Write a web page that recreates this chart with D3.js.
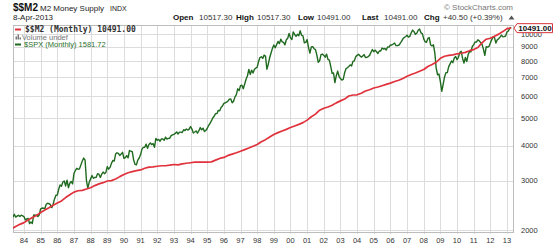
<!DOCTYPE html>
<html>
<head>
<meta charset="utf-8">
<script src="https://cdnjs.cloudflare.com/ajax/libs/d3/7.8.5/d3.min.js"></script>
<style>
body { margin:0; background:#fff; }
</style>
</head>
<body>
<div id="chart"></div>
<script>
// year gridlines / labels
const yearTicks = d3.range(1984, 2014)
const yearLabels = yearTicks.map(function(y){ return String(y).slice(2) })
const priceTicks = [2000, 3000, 4000, 5000, 6000, 7000, 8000, 9000, 10000]

// $$M2, quarterly points starting Apr 1983
const m2Start = 1983.25
const m2Values = [
  2020, 2060, 2095,
  2125, 2170, 2215, 2255,
  2310, 2355, 2400, 2450,
  2495, 2540, 2610, 2670,
  2730, 2760, 2770, 2800,
  2830, 2880, 2920, 2950,
  2990, 3000, 3040, 3100,
  3155, 3200, 3230, 3255,
  3275, 3320, 3350, 3360,
  3375, 3390, 3390, 3405,
  3425, 3415, 3440, 3460,
  3475, 3490, 3490, 3490,
  3490, 3500, 3550, 3600,
  3630, 3690, 3730, 3770,
  3820, 3870, 3920, 3980,
  4035, 4130, 4200, 4290,
  4380, 4450, 4510, 4570,
  4640, 4700, 4760, 4830,
  4930, 5070, 5180, 5350,
  5435, 5490, 5570, 5680,
  5775, 5860, 6010, 6060,
  6070, 6150, 6260, 6330,
  6420, 6470, 6540, 6610,
  6680, 6770, 6840, 6940,
  7070, 7170, 7260, 7360,
  7470, 7660, 7780, 7930,
  8190, 8330, 8390, 8420,
  8500, 8540, 8600, 8720,
  8800, 8950, 9300, 9580,
  9660, 9820, 9990, 10200,
  10450, 10491
]

// $SPX monthly closes starting May 1983
const spxStart = 1983 + 4 / 12
const spxValues = [
  162.39, 168.11, 162.56, 164.40, 166.07, 163.55, 166.40, 164.93,
  163.41, 157.06, 159.18, 160.05, 150.55, 153.18, 150.66, 166.68, 166.10, 166.09, 163.58, 167.24,
  179.63, 181.18, 180.66, 179.83, 189.55, 191.85, 190.92, 188.63, 182.08, 189.82, 202.17, 211.28,
  211.78, 226.92, 238.90, 235.52, 247.35, 250.84, 236.12, 252.93, 231.32, 243.98, 249.22, 242.17,
  274.08, 284.20, 291.70, 288.36, 290.10, 304.00, 318.66, 329.80, 321.83, 251.79, 230.30, 247.08,
  257.07, 267.82, 258.89, 261.33, 262.16, 273.50, 272.02, 261.52, 271.91, 278.97, 273.70, 277.72,
  297.47, 288.86, 294.87, 309.64, 320.52, 317.98, 346.08, 351.45, 349.15, 340.36, 345.99, 353.40,
  329.08, 331.89, 339.94, 330.80, 361.23, 358.02, 356.15, 322.56, 306.05, 304.00, 322.22, 330.22,
  343.93, 367.07, 375.22, 375.35, 389.83, 371.16, 387.81, 395.43, 387.86, 392.46, 375.22, 417.09,
  408.79, 412.70, 403.69, 414.95, 415.35, 408.14, 424.21, 414.03, 417.80, 418.68, 431.35, 435.71,
  438.78, 443.38, 451.67, 440.19, 450.19, 450.53, 448.13, 463.56, 458.93, 467.83, 461.79, 466.45,
  481.61, 467.14, 445.77, 450.91, 456.50, 444.27, 458.26, 475.49, 462.69, 472.35, 453.69, 459.27,
  470.42, 487.39, 500.71, 514.71, 533.40, 544.75, 562.06, 561.88, 584.41, 581.50, 605.37, 615.93,
  636.02, 640.43, 645.50, 654.17, 669.12, 670.63, 639.95, 651.99, 687.33, 705.27, 757.02, 740.74,
  786.16, 790.82, 757.12, 801.34, 848.28, 885.14, 954.31, 899.47, 947.28, 914.62, 955.40, 970.43,
  980.28, 1049.34, 1101.75, 1111.75, 1090.82, 1133.84, 1120.67, 957.28, 1017.01, 1098.67, 1163.63, 1229.23,
  1279.64, 1238.33, 1286.37, 1335.18, 1301.84, 1372.71, 1328.72, 1320.41, 1282.71, 1362.93, 1388.91, 1469.25,
  1394.46, 1366.42, 1498.58, 1452.43, 1420.60, 1454.60, 1430.83, 1517.68, 1436.51, 1429.40, 1314.95, 1320.28,
  1366.01, 1239.94, 1160.33, 1249.46, 1255.82, 1224.42, 1211.23, 1133.58, 1040.94, 1059.78, 1139.45, 1148.08,
  1130.20, 1106.73, 1147.39, 1076.92, 1067.14, 989.82, 911.62, 916.07, 815.28, 885.76, 936.31, 879.82,
  855.70, 841.15, 848.18, 916.92, 963.59, 974.50, 990.31, 1008.01, 995.97, 1050.71, 1058.20, 1111.92,
  1131.13, 1144.94, 1126.21, 1107.30, 1120.68, 1140.84, 1101.72, 1104.24, 1114.58, 1130.20, 1173.82, 1211.92,
  1181.27, 1203.60, 1180.59, 1156.85, 1191.50, 1191.33, 1234.18, 1220.33, 1228.81, 1207.01, 1249.48, 1248.29,
  1280.08, 1280.66, 1294.83, 1310.61, 1270.09, 1270.20, 1276.66, 1303.82, 1335.85, 1377.94, 1400.63, 1418.30,
  1438.24, 1406.82, 1420.86, 1482.37, 1530.62, 1503.35, 1455.27, 1473.99, 1526.75, 1549.38, 1481.14, 1468.36,
  1378.55, 1330.63, 1322.70, 1385.59, 1400.38, 1280.00, 1267.38, 1282.83, 1166.36, 968.75, 896.24, 903.25,
  825.88, 735.09, 797.87, 872.81, 919.14, 919.32, 987.48, 1020.62, 1057.08, 1036.19, 1095.63, 1115.10,
  1073.87, 1104.49, 1169.43, 1186.69, 1089.41, 1030.71, 1101.60, 1049.33, 1141.20, 1183.26, 1180.55, 1257.64,
  1286.12, 1327.22, 1325.83, 1363.61, 1345.20, 1320.64, 1292.28, 1218.89, 1131.42, 1253.30, 1246.96, 1257.60,
  1312.41, 1365.68, 1408.47, 1397.91, 1310.33, 1362.16, 1379.32, 1406.58, 1440.67, 1412.16, 1416.18, 1426.19,
  1498.11, 1514.68, 1569.19, 1581.72
]

const quoteLabels = ['Open', 'High', 'Low', 'Last', 'Chg']
const quoteValues = ['10517.30', '10517.30', '10491.00', '10491.00', '+40.50 (+0.39%)']
const lastM2 = 10491.00

const width = 554
const height = 247
const plot = { left: 13, right: 513, top: 25, bottom: 232 }
const sans = '"Liberation Sans", Arial, sans-serif'

var svg = d3.select('#chart').append('svg')
  .attr('width', width).attr('height', height)
  .style('font-family', sans)

var xScale = d3.scaleLinear().domain([1984, 2013]).range([24, 507])
var yScale = d3.scaleLog().domain([2000, 10000]).range([230, 34])
var spxScale = d3.scaleLog().domain([100, 2000]).range([257.6, 7.8])

// grid
svg.append('g')
  .selectAll('line')
  .data(priceTicks)
  .enter()
  .append('line')
  .attr('x1', plot.left).attr('x2', plot.right)
  .attr('y1', function(d){ return Math.round(yScale(d)) + 0.5 })
  .attr('y2', function(d){ return Math.round(yScale(d)) + 0.5 })
  .attr('stroke', '#dcdcdc')

svg.append('g')
  .selectAll('line')
  .data(yearTicks)
  .enter()
  .append('line')
  .attr('x1', function(d){ return Math.round(xScale(d)) + 0.5 })
  .attr('x2', function(d){ return Math.round(xScale(d)) + 0.5 })
  .attr('y1', plot.top).attr('y2', plot.bottom + 2)
  .attr('stroke', '#dcdcdc')

svg.append('rect')
  .attr('x', plot.left + 0.5).attr('y', plot.top + 0.5)
  .attr('width', plot.right - plot.left).attr('height', plot.bottom - plot.top)
  .attr('fill', 'none').attr('stroke', '#bdbdbd')

// axis labels
svg.append('g')
  .selectAll('text')
  .data(yearTicks)
  .enter()
  .append('text')
  .attr('x', function(d){ return xScale(d) })
  .attr('y', 243)
  .attr('text-anchor', 'middle')
  .attr('font-size', '7.5px')
  .attr('fill', '#333')
  .text(function(d, i){ return yearLabels[i] })

svg.append('g')
  .selectAll('text')
  .data(priceTicks)
  .enter()
  .append('text')
  .attr('x', 521)
  .attr('y', function(d){ return yScale(d) })
  .attr('dy', '0.35em')
  .attr('font-size', '7.5px')
  .attr('fill', '#333')
  .text(function(d){ return d })

// lines
svg.append('clipPath').attr('id', 'clip')
  .append('rect')
  .attr('x', plot.left).attr('y', plot.top)
  .attr('width', plot.right - plot.left).attr('height', plot.bottom - plot.top)

const m2Line = d3.line()
  .x(function(d, i){ return xScale(m2Start + i / 4) })
  .y(function(d){ return yScale(d) })

const spxLine = d3.line()
  .x(function(d, i){ return xScale(spxStart + i / 12) })
  .y(function(d){ return spxScale(d) })

svg.append('path')
  .attr('clip-path', 'url(#clip)')
  .attr('fill', 'none')
  .attr('stroke', '#1f6a1f')
  .attr('stroke-width', 1.4)
  .attr('stroke-linejoin', 'round')
  .attr('d', spxLine(spxValues))

svg.append('path')
  .attr('clip-path', 'url(#clip)')
  .attr('fill', 'none')
  .attr('stroke', '#e0323c')
  .attr('stroke-width', 1.7)
  .attr('stroke-linejoin', 'round')
  .attr('d', m2Line(m2Values))

// last value tag
const tagY = yScale(lastM2)
svg.append('path')
  .attr('d', 'M514,' + tagY + ' L517,' + (tagY - 4.5) + ' L552.5,' + (tagY - 4.5) +
    ' L552.5,' + (tagY + 4.5) + ' L517,' + (tagY + 4.5) + ' Z')
  .attr('fill', '#fff').attr('stroke', '#d8323c').attr('stroke-width', 1)
svg.append('text')
  .attr('x', 535).attr('y', tagY).attr('dy', '0.36em')
  .attr('text-anchor', 'middle')
  .attr('font-size', '8px').attr('font-weight', 'bold').attr('fill', '#111')
  .text(lastM2.toFixed(2))

// header
svg.append('text').attr('x', 13).attr('y', 11)
  .attr('font-size', '10px').attr('font-weight', 'bold').attr('fill', '#111').text('$$M2')
svg.append('text').attr('x', 40).attr('y', 11)
  .attr('font-size', '8px').attr('fill', '#222').text('M2 Money Supply')
svg.append('text').attr('x', 110).attr('y', 11)
  .attr('font-size', '7px').attr('fill', '#222').text('INDX')
svg.append('text').attr('x', 13).attr('y', 20)
  .attr('font-size', '8px').attr('fill', '#222').text('8-Apr-2013')
svg.append('text').attr('x', 513).attr('y', 10)
  .attr('text-anchor', 'end')
  .attr('font-size', '8px').attr('fill', '#777').text('\u00a9 StockCharts.com')

const labelX = [173, 236, 298, 362, 424]
const valueX = [199, 257, 317, 384, 443]
quoteLabels.forEach(function(l, i){
  svg.append('text').attr('x', labelX[i]).attr('y', 20)
    .attr('font-size', '8px').attr('font-weight', 'bold').attr('fill', '#111').text(l)
  svg.append('text').attr('x', valueX[i]).attr('y', 20)
    .attr('font-size', '8px').attr('fill', '#333').text(quoteValues[i])
})
svg.append('path').attr('d', 'M508.5,19.5 L511.5,15.5 L514.5,19.5 Z').attr('fill', '#555')

// legend
svg.append('line').attr('x1', 15).attr('x2', 21).attr('y1', 29.5).attr('y2', 29.5)
  .attr('stroke', '#e0323c').attr('stroke-width', 2)
svg.append('text').attr('x', 25).attr('y', 32)
  .style('font-family', '"DejaVu Sans Mono", monospace')
  .attr('font-size', '8px').attr('font-weight', 'bold').attr('fill', '#333')
  .text('$$M2 (Monthly) ' + lastM2.toFixed(2))

svg.append('g').attr('fill', '#777')
  .selectAll('rect')
  .data([3, 5, 2])
  .enter()
  .append('rect')
  .attr('x', function(d, i){ return 15.5 + i * 2 })
  .attr('y', function(d){ return 39.5 - d })
  .attr('width', 1.5)
  .attr('height', function(d){ return d })
svg.append('text').attr('x', 22).attr('y', 39.5)
  .attr('font-size', '7.5px').attr('fill', '#777').text('Volume undef')

svg.append('line').attr('x1', 15).attr('x2', 21).attr('y1', 44.5).attr('y2', 44.5)
  .attr('stroke', '#1f6a1f').attr('stroke-width', 2)
svg.append('text').attr('x', 24).attr('y', 47)
  .attr('font-size', '7.5px').attr('fill', '#2a702a')
  .text('$SPX (Monthly) ' + spxValues[spxValues.length - 1].toFixed(2))
</script>
</body>
</html>
